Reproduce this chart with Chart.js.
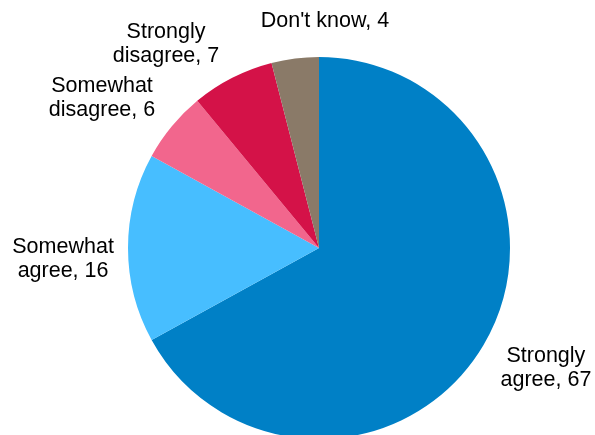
<!DOCTYPE html>
<html>
<head>
<meta charset="utf-8">
<script src="https://cdn.jsdelivr.net/npm/chart.js@4/dist/chart.umd.min.js"></script>
<style>
  html, body { margin: 0; padding: 0; background: #fff; overflow: hidden; width: 595px; height: 435px; }
  #wrap { position: relative; width: 595px; height: 435px; overflow: hidden; }
  canvas { display: block; }
</style>
</head>
<body>
<div id="wrap"><canvas id="c" width="595" height="440"></canvas></div>
<script>
// ---- data ----
const categories = ["Strongly agree", "Somewhat agree", "Somewhat disagree", "Strongly disagree", "Don't know"];
const values = [67, 16, 6, 7, 4];
const labelLines = [
  ["Strongly", "agree, 67"],
  ["Somewhat", "agree, 16"],
  ["Somewhat", "disagree, 6"],
  ["Strongly", "disagree, 7"],
  ["Don't know, 4"]
];

// ---- styling / layout ----
const colors = ["#0080C6", "#47BEFF", "#F2668D", "#D41248", "#8A7A68"];
// label block centre relative to pie centre, in units of the pie radius
const labelOffsets = [
  [1.188, 0.618],
  [-1.340, 0.049],
  [-1.136, -0.794],
  [-0.801, -1.079],
  [0.031, -1.196]
];
const FONT_SIZE = 21.5;
const LINE_H = 24;

const labelPlugin = {
  id: 'pieLabels',
  afterDatasetsDraw(chart) {
    const ctx = chart.ctx;
    const meta = chart.getDatasetMeta(0);
    ctx.save();
    ctx.font = FONT_SIZE + 'px "Liberation Sans", Arial, sans-serif';
    ctx.fillStyle = '#000';
    ctx.textAlign = 'center';
    ctx.textBaseline = 'alphabetic';
    const capHalf = FONT_SIZE * 0.716 / 2;
    meta.data.forEach((arc, i) => {
      const p = arc.getProps(['x', 'y', 'outerRadius'], true);
      const cx = p.x + labelOffsets[i][0] * p.outerRadius;
      const cy = p.y + labelOffsets[i][1] * p.outerRadius;
      const lines = labelLines[i];
      const n = lines.length;
      lines.forEach((t, k) => {
        const mid = cy + (k - (n - 1) / 2) * LINE_H;
        ctx.fillText(t, cx, mid + capHalf);
      });
    });
    ctx.restore();
  }
};

new Chart(document.getElementById('c'), {
  type: 'pie',
  data: {
    labels: categories,
    datasets: [{
      data: values,
      backgroundColor: colors,
      borderWidth: 0,
      hoverOffset: 0
    }]
  },
  options: {
    responsive: false,
    animation: false,
    rotation: 0,
    layout: { padding: { left: 128, right: 85, top: 57, bottom: 1 } },
    plugins: {
      legend: { display: false },
      tooltip: { enabled: false }
    }
  },
  plugins: [labelPlugin]
});
</script>
</body>
</html>
